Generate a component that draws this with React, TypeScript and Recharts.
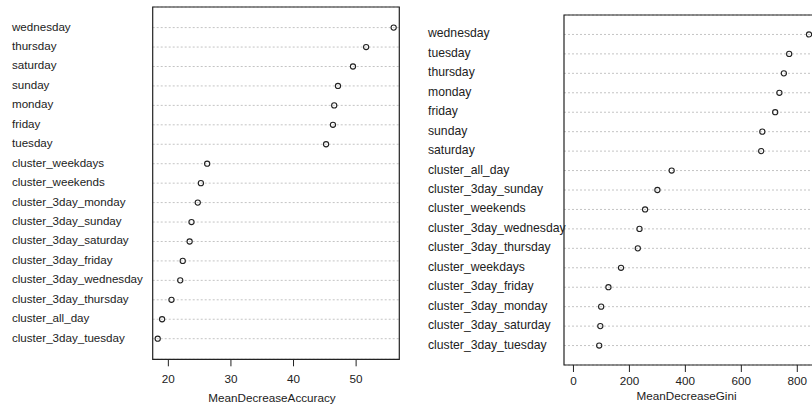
import { ScatterChart, Scatter, XAxis, YAxis, CartesianGrid, ReferenceArea, Label } from 'recharts';

const FONT = '"Liberation Sans", Arial, sans-serif';
const INK = '#222';

// Random forest variable importance, sorted high to low
const accuracyNames = [
  'wednesday',
  'thursday',
  'saturday',
  'sunday',
  'monday',
  'friday',
  'tuesday',
  'cluster_weekdays',
  'cluster_weekends',
  'cluster_3day_monday',
  'cluster_3day_sunday',
  'cluster_3day_saturday',
  'cluster_3day_friday',
  'cluster_3day_wednesday',
  'cluster_3day_thursday',
  'cluster_all_day',
  'cluster_3day_tuesday',
];
const accuracyValues = [56.0, 51.6, 49.5, 47.1, 46.5, 46.3, 45.2, 26.2, 25.2, 24.7, 23.7, 23.4, 22.3, 21.9, 20.5, 19.0, 18.3];
const accuracyTicks = [20, 30, 40, 50];

const giniNames = [
  'wednesday',
  'tuesday',
  'thursday',
  'monday',
  'friday',
  'sunday',
  'saturday',
  'cluster_all_day',
  'cluster_3day_sunday',
  'cluster_weekends',
  'cluster_3day_wednesday',
  'cluster_3day_thursday',
  'cluster_weekdays',
  'cluster_3day_friday',
  'cluster_3day_monday',
  'cluster_3day_saturday',
  'cluster_3day_tuesday',
];
const giniValues = [842, 771, 752, 736, 721, 675, 671, 351, 300, 256, 236, 230, 170, 125, 99, 96, 92];
const giniTicks = [0, 200, 400, 600, 800];

// row 1 sits at the bottom, like R's dotchart
const toRows = (names: string[], values: number[]) =>
  names.map((name, i) => ({ name, value: values[i], row: names.length - i }));

const OpenDot = (props: any) => (
  <circle cx={props.cx} cy={props.cy} r={2.6} fill="none" stroke={INK} strokeWidth={1.1} />
);

const RowLabel = (props: any) => {
  const { y, payload, labelX, names, fontSize } = props;
  const name = names[names.length - payload.value];
  return (
    <text x={labelX} y={y} dy={3} textAnchor="start" fontSize={fontSize} fontFamily={FONT} fill={INK}>
      {name}
    </text>
  );
};

const AxisTitle = (props: any) => {
  const { viewBox, text, dx, baseline } = props;
  const cx = viewBox ? viewBox.x + viewBox.width / 2 : 0;
  return (
    <text x={cx + dx} y={baseline} textAnchor="middle" fontSize={11.7} fontFamily={FONT} fill={INK}>
      {text}
    </text>
  );
};

type PanelProps = {
  names: string[];
  values: number[];
  ticks: number[];
  xDomain: [number, number];
  yDomain: [number, number];
  margin: { top: number; right: number; bottom: number; left: number };
  yWidth: number;
  labelX: number;
  labelSize: number;
  tickSize: number;
  tickMargin: number;
  title: string;
  titleDx: number;
  titleBaseline: number;
};

const ImportancePanel = (p: PanelProps) => {
  const data = toRows(p.names, p.values);
  const rows = data.map((d) => d.row);
  return (
    <ScatterChart width={410} height={412} margin={p.margin}>
      <CartesianGrid vertical={false} stroke="#c4c4c4" strokeDasharray="2 2" />
      <XAxis
        type="number"
        dataKey="value"
        domain={p.xDomain}
        ticks={p.ticks}
        interval={0}
        allowDataOverflow
        height={30}
        axisLine={false}
        tickLine={{ stroke: INK }}
        tickSize={p.tickSize}
        tickMargin={p.tickMargin}
        tick={{ fontSize: 11.7, fontFamily: FONT, fill: INK }}
      >
        <Label
          content={(lp: any) => (
            <AxisTitle {...lp} text={p.title} dx={p.titleDx} baseline={p.titleBaseline} />
          )}
        />
      </XAxis>
      <YAxis
        type="number"
        dataKey="row"
        domain={p.yDomain}
        ticks={rows}
        interval={0}
        allowDataOverflow
        width={p.yWidth}
        axisLine={false}
        tickLine={false}
        tick={(tp: any) => <RowLabel {...tp} labelX={p.labelX} names={p.names} fontSize={p.labelSize} />}
      />
      <ReferenceArea
        x1={p.xDomain[0]}
        x2={p.xDomain[1]}
        y1={p.yDomain[0]}
        y2={p.yDomain[1]}
        fill="none"
        stroke={INK}
        strokeWidth={1.2}
      />
      <Scatter data={data} shape={OpenDot} isAnimationActive={false} />
    </ScatterChart>
  );
};

export default function App() {
  return (
    <div
      style={{
        position: 'absolute',
        left: 0,
        top: 0,
        width: 812,
        height: 412,
        overflow: 'hidden',
        background: '#fff',
      }}
    >
      <div style={{ position: 'absolute', left: 0, top: 0 }}>
        <ImportancePanel
          names={accuracyNames}
          values={accuracyValues}
          ticks={accuracyTicks}
          xDomain={[17.5, 56.9]}
          yDomain={[-0.06, 18.06]}
          margin={{ top: 7, right: 10.7, bottom: 22.7, left: 10 }}
          yWidth={142.7}
          labelX={12}
          labelSize={11.6}
          tickSize={7}
          tickMargin={8}
          title="MeanDecreaseAccuracy"
          titleDx={-4}
          titleBaseline={401.5}
        />
      </div>
      <div style={{ position: 'absolute', left: 410, top: 0 }}>
        <ImportancePanel
          names={giniNames}
          values={giniValues}
          ticks={giniTicks}
          xDomain={[-33.8, 877.6]}
          yDomain={[0, 18]}
          margin={{ top: 15, right: 1, bottom: 17, left: 10 }}
          yWidth={144}
          labelX={18}
          labelSize={12.2}
          tickSize={7}
          tickMargin={4.5}
          title="MeanDecreaseGini"
          titleDx={-5}
          titleBaseline={400}
        />
      </div>
    </div>
  );
}
